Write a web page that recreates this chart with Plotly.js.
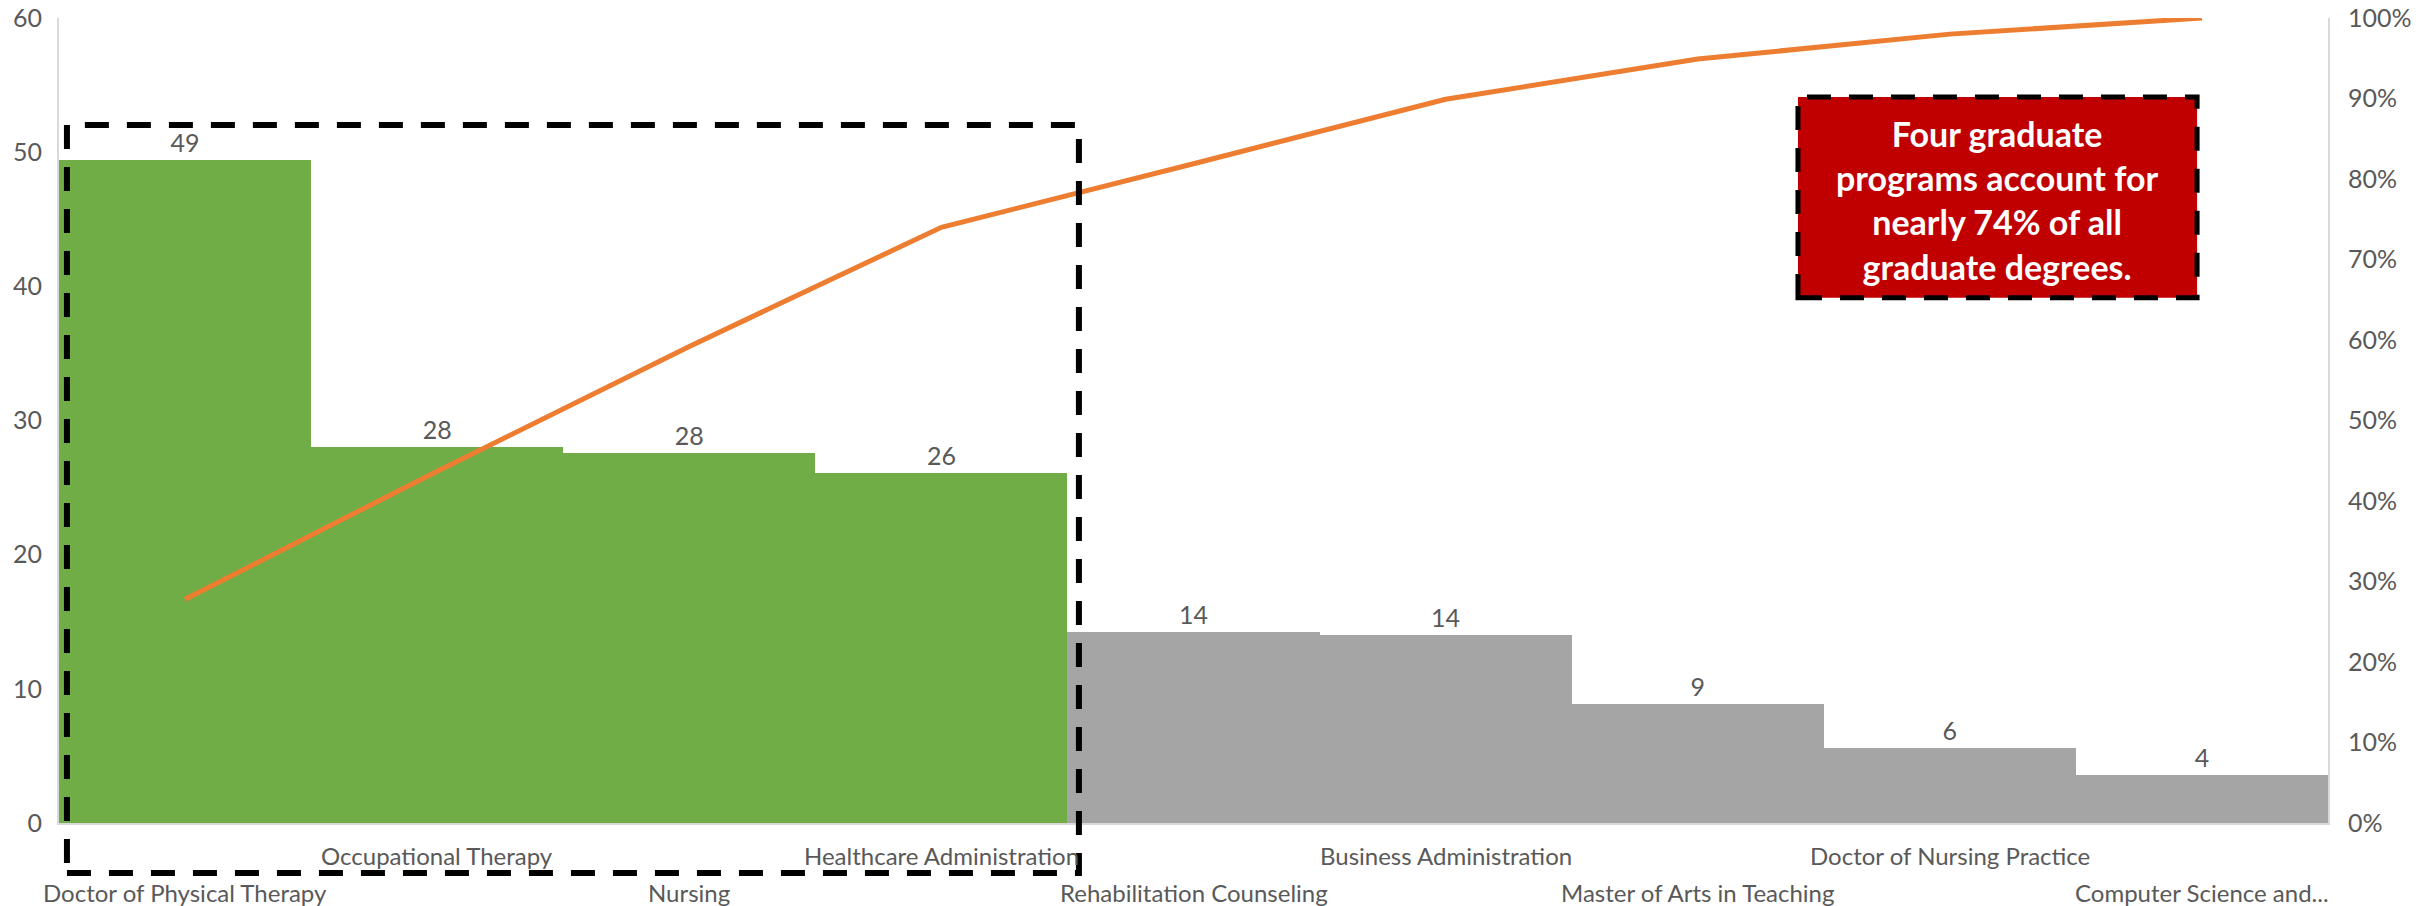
<!DOCTYPE html>
<html>
<head>
<meta charset="utf-8">
<script src="https://cdn.plot.ly/plotly-3.0.1.min.js"></script>
<style>
  html, body { margin: 0; padding: 0; background: #ffffff; }
  #chart { width: 2435px; height: 906px; }
</style>
</head>
<body>
<div id="chart"></div>
<script>
// ---- Data ----
const programs = [
  "Doctor of Physical Therapy",
  "Occupational Therapy",
  "Nursing",
  "Healthcare Administration",
  "Rehabilitation Counseling",
  "Business Administration",
  "Master of Arts in Teaching",
  "Doctor of Nursing Practice",
  "Computer Science and..."
];
const degrees = [49.4, 28.0, 27.6, 26.1, 14.2, 14.0, 8.9, 5.6, 3.6];
const cumulativeShare = [0.278, 0.437, 0.592, 0.740, 0.819, 0.899, 0.949, 0.980, 1.000];
const yTicks = [0, 10, 20, 30, 40, 50, 60];
const y2Ticks = [0, 0.1, 0.2, 0.3, 0.4, 0.5, 0.6, 0.7, 0.8, 0.9, 1.0];
const calloutLines = ["Four graduate", "programs account for", "nearly 74% of all", "graduate degrees."];
const topGroupCount = 4;

// ---- Styles ----
const FONT = "Lato, 'Liberation Sans', sans-serif";
const GREEN = "#70AD47";
const GRAY = "#A5A5A5";
const ORANGE = "#ED7D31";
const TEXTGRAY = "#595959";
const AXISGRAY = "#D9D9D9";

const barColors = programs.map((_, i) => i < topGroupCount ? GREEN : GRAY);

const bars = {
  type: "bar",
  x: programs,
  y: degrees,
  marker: { color: barColors, line: { width: 0 } },
  texttemplate: "%{y:.0f}",
  textposition: "outside",
  cliponaxis: false,
  textfont: { family: FONT, size: 25, color: TEXTGRAY },
  hoverinfo: "x+y",
  showlegend: false
};

const line = {
  type: "scatter",
  mode: "lines",
  x: programs,
  y: cumulativeShare,
  yaxis: "y2",
  line: { color: ORANGE, width: 5 },
  cliponaxis: false,
  showlegend: false
};

// x-axis labels staggered on two rows, as in the reference
const labelAnnotations = programs.map((p, i) => ({
  x: p, xref: "x",
  y: i % 2 === 0 ? -0.0868 : -0.0409, yref: "paper",
  yanchor: "middle", xanchor: "center",
  text: p, showarrow: false,
  font: { family: FONT, size: 24, color: TEXTGRAY }
}));

const calloutAnnotation = {
  x: 0.854, xref: "paper", y: 0.7745, yref: "paper",
  xanchor: "center", yanchor: "middle",
  text: "<b>" + calloutLines.join("<br>") + "</b>",
  showarrow: false, align: "center",
  font: { family: FONT, size: 34, color: "#FFFFFF" }
};

const dash = "24px,18px";

const layout = {
  width: 2435,
  height: 906,
  margin: { l: 59, r: 107, t: 18, b: 83 },
  paper_bgcolor: "#FFFFFF",
  plot_bgcolor: "#FFFFFF",
  bargap: 0,
  font: { family: FONT, color: TEXTGRAY },
  xaxis: {
    type: "category",
    showticklabels: false,
    showline: true, linecolor: AXISGRAY, linewidth: 2,
    showgrid: false, zeroline: false, ticks: "",
    range: [-0.5, programs.length - 0.5]
  },
  yaxis: {
    range: [0, 60.001],
    tickvals: yTicks,
    showgrid: false, zeroline: false,
    showline: true, linecolor: AXISGRAY, linewidth: 2,
    ticks: "",
    tickfont: { family: FONT, size: 25, color: TEXTGRAY },
    ticklabelstandoff: 10,
    ticklabeloverflow: "allow"
  },
  yaxis2: {
    overlaying: "y", side: "right",
    range: [0, 1.00002],
    tickvals: y2Ticks,
    tickformat: ".0%",
    showgrid: false, zeroline: false,
    showline: true, linecolor: AXISGRAY, linewidth: 2,
    ticks: "",
    tickfont: { family: FONT, size: 25, color: TEXTGRAY },
    ticklabelstandoff: 13,
    ticklabeloverflow: "allow"
  },
  shapes: [
    {
      type: "rect", xref: "paper", yref: "paper",
      x0: 0.0035, x1: 0.4495, y0: -0.062, y1: 0.8672,
      line: { color: "#000000", width: 6, dash: dash },
      fillcolor: "rgba(0,0,0,0)", layer: "above"
    },
    {
      type: "rect", xref: "paper", yref: "paper",
      x0: 0.7664, x1: 0.9423, y0: 0.6526, y1: 0.9020,
      line: { color: "#000000", width: 5, dash: dash },
      fillcolor: "#C00000", layer: "above"
    }
  ],
  annotations: labelAnnotations.concat([calloutAnnotation])
};

Plotly.newPlot("chart", [bars, line], layout, { displayModeBar: false, staticPlot: true });
</script>
</body>
</html>
